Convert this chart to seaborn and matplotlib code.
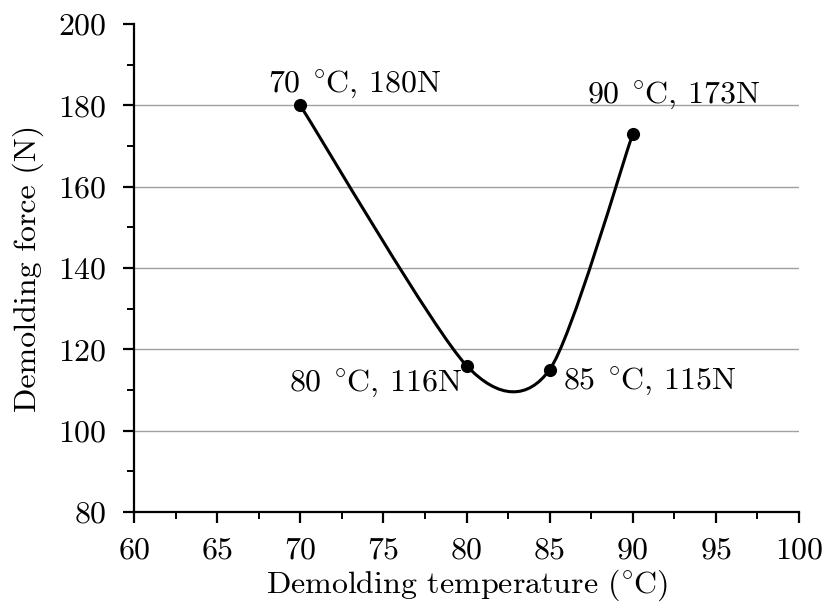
import matplotlib
matplotlib.use("Agg")
import matplotlib.pyplot as plt
import numpy as np
import seaborn as sns
from matplotlib.patches import PathPatch
from matplotlib.path import Path
from matplotlib.ticker import MultipleLocator

temperature = [70, 80, 85, 90]
force = [180, 116, 115, 173]
point_labels = [r"70$\;^\circ\!$C, 180N", r"80$\;^\circ\!$C, 116N",
                r"85$\;^\circ\!$C, 115N", r"90$\;^\circ\!$C, 173N"]

sns.set_theme(style="ticks")
plt.rcParams.update({
    "font.family": ["cmr10", "DejaVu Serif"],
    "mathtext.fontset": "cm",
    "axes.formatter.use_mathtext": True,
    "font.size": 23,
    "axes.labelsize": 23,
    "xtick.labelsize": 23,
    "ytick.labelsize": 23,
    "text.color": "black",
    "axes.labelcolor": "black",
    "xtick.color": "black",
    "ytick.color": "black",
    "axes.edgecolor": "black",
    "axes.linewidth": 1.6,
})


def smooth_path(xs, ys, k=0.13):
    # Catmull-Rom style bezier through the points (like a spreadsheet "smoothed line")
    pts = np.column_stack([xs, ys]).astype(float)
    n = len(pts)
    verts = [pts[0]]
    codes = [Path.MOVETO]
    for i in range(n - 1):
        p_prev = pts[max(i - 1, 0)]
        p0, p1 = pts[i], pts[i + 1]
        p_next = pts[min(i + 2, n - 1)]
        c1 = p0 + (p1 - p_prev) * k
        c2 = p1 - (p_next - p0) * k
        verts += [c1, c2, p1]
        codes += [Path.CURVE4] * 3
    return Path(verts, codes)


fig = plt.figure(figsize=(8.3, 6.09), dpi=100)
ax = fig.add_axes([0.1614, 0.1593, 0.8013, 0.8013])

for y in range(100, 200, 20):
    ax.axhline(y, color="#a0a0a0", linewidth=1.0, zorder=0)

ax.add_patch(PathPatch(smooth_path(temperature, force), facecolor="none",
                       edgecolor="black", linewidth=2.2, zorder=2))
sns.scatterplot(x=temperature, y=force, color="black", s=90, zorder=3,
                edgecolor="black", linewidth=0, ax=ax)

offsets = [(-1.95, 3.3), (-10.7, -6.2), (0.8, -4.6), (-2.75, 7.6)]
for x, y, lab, (dx, dy) in zip(temperature, force, point_labels, offsets):
    ax.text(x + dx, y + dy, lab, ha="left", va="baseline", fontsize=23)

ax.set_xlim(60, 100)
ax.set_ylim(80, 200)
ax.xaxis.set_major_locator(MultipleLocator(5))
ax.xaxis.set_minor_locator(MultipleLocator(2.5))
ax.yaxis.set_major_locator(MultipleLocator(20))
ax.yaxis.set_minor_locator(MultipleLocator(10))
ax.tick_params(which="major", direction="out", length=8, width=1.6, color="black")
ax.tick_params(axis="y", which="major", pad=12)
ax.tick_params(axis="x", which="major", pad=10)
ax.tick_params(which="minor", direction="out", length=5, width=1.4, color="black")
for side in ["top", "right"]:
    ax.spines[side].set_visible(False)

ax.set_xlabel(r"Demolding temperature ($\!^\circ\!$C)", labelpad=2)
ax.set_ylabel("Demolding force (N)", labelpad=10)

fig.savefig("out.png", dpi=100)
